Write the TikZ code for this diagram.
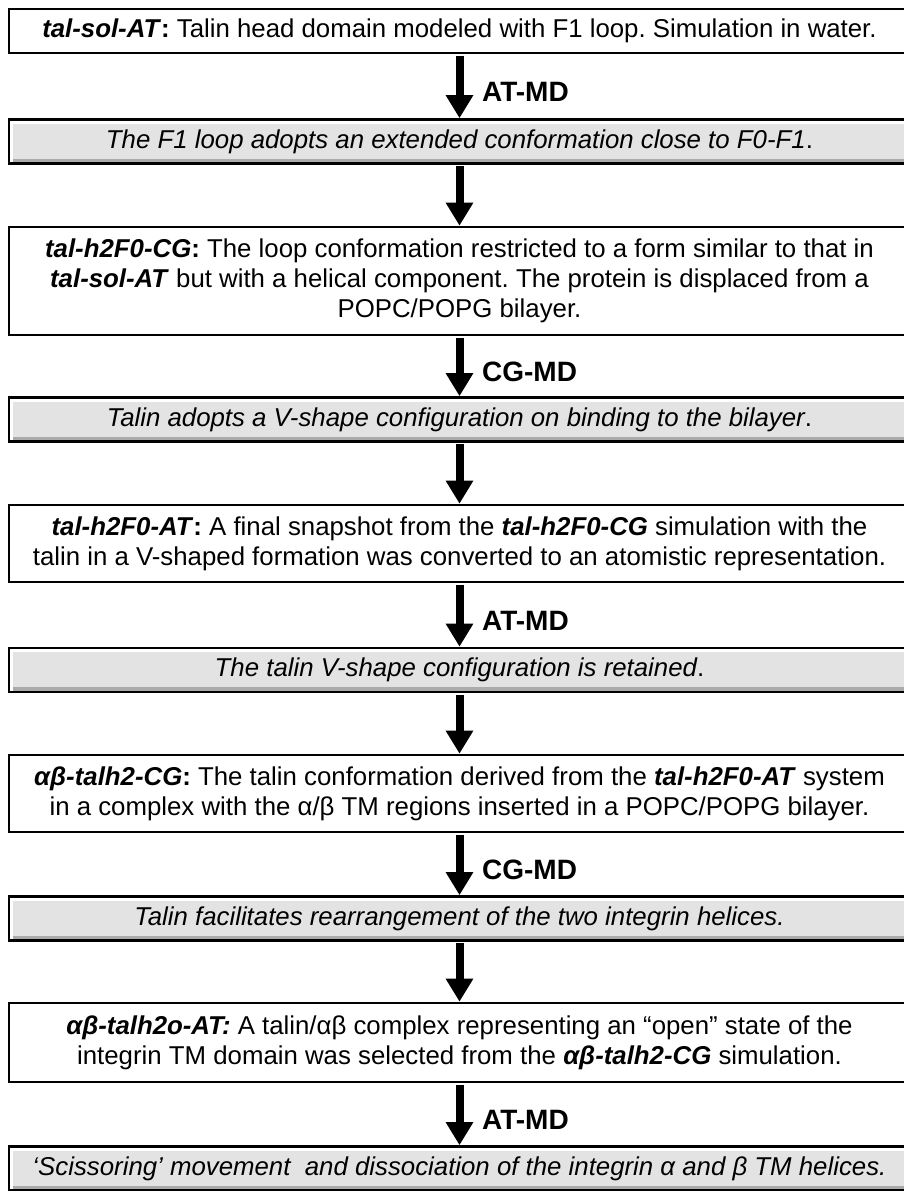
\documentclass[tikz,border=0pt]{standalone}
\usepackage{fontspec}
\setmainfont{Liberation Sans}
\usepackage{tikz}
\usetikzlibrary{arrows.meta,positioning}
\frenchspacing
\definecolor{tlink}  {HTML}{000000}
\definecolor{tlbody} {HTML}{E3E3E3}
\definecolor{tlshade}{HTML}{ABABAB}
\newcommand{\sysname}[1]{\textbf{\textit{#1}}}
\tikzset{
  tlbox/.style={draw=tlink, line width=1.3pt, fill=white, inner sep=1pt,
                minimum width=450.5pt, align=center, font=\fontsize{12.9}{15}\selectfont},
  tlresult/.style={tlbox, fill=tlbody, minimum height=22pt,
                   font=\fontsize{12.9}{15}\selectfont\itshape,
                   path picture={
                     \fill[tlshade] (path picture bounding box.south west)
                        rectangle ([yshift=2.5pt]path picture bounding box.south east);
                     \fill[white] (path picture bounding box.north west)
                        rectangle ([yshift=-2pt]path picture bounding box.north east);
                     \fill[white] (path picture bounding box.north west)
                        rectangle ([xshift=2pt]path picture bounding box.south west);}},
  tlarrow/.style={-{Triangle[length=11.5pt,width=13pt]}, line width=4pt, draw=tlink,
                  shorten <=0.7pt},
  tlmethod/.style={anchor=west, xshift=6pt, yshift=-3pt,
                   font=\fontsize{14}{16}\selectfont\bfseries},
}
\begin{document}
\begin{tikzpicture}[x=0.5pt,y=-0.5pt]
  \useasboundingbox (0,0) rectangle (904,1191);
  \node[tlbox, minimum height=22pt] (b1) at (459.5,31)
    {\sysname{tal-sol-AT}\textbf{:} Talin head domain modeled with F1 loop. Simulation in water.};
  \node[tlresult] (b2) at (459.5,141.5)
    {The F1 loop adopts an extended conformation close to F0-F1\upshape.};
  \node[tlbox, minimum height=54pt] (b3) at (459.5,281)
    {\sysname{tal-h2F0-CG}\textbf{:} The loop conformation restricted to a form similar to that in\\
     \sysname{tal-sol-AT} but with a helical component. The protein is displaced from a\\
     POPC/POPG bilayer.};
  \node[tlresult] (b4) at (459.5,419.5)
    {Talin adopts a V-shape configuration on binding to the bilayer\upshape.};
  \node[tlbox, minimum height=38.5pt] (b5) at (459.5,543.5)
    {\sysname{tal-h2F0-AT}\textbf{:} A final snapshot from the \sysname{tal-h2F0-CG} simulation with the\\
     talin in a V-shaped formation was converted to an atomistic representation.};
  \node[tlresult] (b6) at (459.5,670)
    {The talin V-shape configuration is retained\upshape.};
  \node[tlbox, minimum height=38.5pt] (b7) at (459.5,793.5)
    {\sysname{αβ-talh2-CG}\textbf{:} The talin conformation derived from the \sysname{tal-h2F0-AT} system\\
     in a complex with the α/β TM regions inserted in a POPC/POPG bilayer.};
  \node[tlresult] (b8) at (459.5,918.5)
    {Talin facilitates rearrangement of the two integrin helices.};
  \node[tlbox, minimum height=39.5pt] (b9) at (459.5,1042.5)
    {\sysname{αβ-talh2o-AT:} A talin/αβ complex representing an “open” state of the\\
     integrin TM domain was selected from the \sysname{αβ-talh2-CG} simulation.};
  \node[tlresult] (b10) at (459.5,1168.5)
    {‘Scissoring’ movement\ \ and dissociation of the integrin α and β TM helices.};

  \draw[tlarrow] (b1) -- node[tlmethod] {AT-MD} (b2);
  \draw[tlarrow] (b2) -- (b3);
  \draw[tlarrow] (b3) -- node[tlmethod] {CG-MD} (b4);
  \draw[tlarrow] (b4) -- (b5);
  \draw[tlarrow] (b5) -- node[tlmethod] {AT-MD} (b6);
  \draw[tlarrow] (b6) -- (b7);
  \draw[tlarrow] (b7) -- node[tlmethod] {CG-MD} (b8);
  \draw[tlarrow] (b8) -- (b9);
  \draw[tlarrow] (b9) -- node[tlmethod] {AT-MD} (b10);
\end{tikzpicture}
\end{document}
